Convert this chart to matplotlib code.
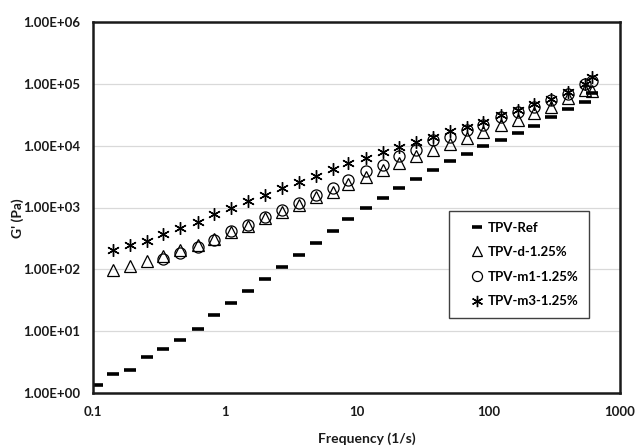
import matplotlib
matplotlib.use("Agg")
import matplotlib.pyplot as plt
from matplotlib.ticker import FixedLocator, FuncFormatter, NullLocator

plt.rcParams['font.family'] = ['Lato', 'DejaVu Sans']
plt.rcParams['font.weight'] = 'bold'

freq = [0.107, 0.142, 0.19, 0.257, 0.339, 0.456, 0.624, 0.825, 1.11, 1.49,
        2.01, 2.70, 3.64, 4.89, 6.58, 8.69, 11.8, 15.8, 21.2, 28.3,
        38.3, 51.3, 68.5, 91.6, 125, 167, 223, 299, 404, 543, 614]

g_ref = [1.35, 2.05, 2.38, 3.82, 5.09, 7.28, 10.7, 18.3, 28.2, 44.6,
         69, 110, 171, 264, 422, 645, 993, 1442, 2046, 2891,
         4045, 5588, 7334, 9773, 12360, 16220, 21040, 29430, 39190, 51430, 70310]

g_d = [97.6, 112, 138, 167, 202, 243, 315, 406, 502, 664,
       846, 1098, 1479, 1803, 2356, 3080, 4045, 5190, 6810, 8510,
       10650, 13150, 16830, 21600, 26020, 33400, 42690, 58400, 79500, 77500]

g_m1 = [147, 182, 230, 298, 417, 521, 703, 895, 1170, 1593,
        2046, 2786, 3893, 4870, 6810, 8510, 12360, 13960, 17940, 21600,
        28770, 35450, 42690, 54800, 67760, 99500, 112400]

g_m3 = [205, 248, 291, 373, 461, 583, 776, 971, 1259, 1593,
        2046, 2614, 3268, 4150, 5190, 6250, 8000, 9420, 11600, 13960,
        17270, 19830, 24430, 31330, 37760, 47210, 56240, 72440, 100500, 126700]

labels = ["TPV-Ref", "TPV-d-1.25%", "TPV-m1-1.25%", "TPV-m3-1.25%"]
y_ticks = [1e0, 1e1, 1e2, 1e3, 1e4, 1e5, 1e6]
x_ticks = [0.1, 1, 10, 100, 1000]
x_tick_labels = ["0.1", "1", "10", "100", "1000"]

fig = plt.figure(figsize=(6.36, 4.46), dpi=100)
ax = fig.add_axes([93/636, 53/446, 527/636, 371/446])

ax.set_xscale('log')
ax.set_yscale('log')
ax.set_xlim(0.1, 1000)
ax.set_ylim(1, 1e6)

ax.plot(freq, g_ref, linestyle='none', marker='_', markersize=8,
        markeredgewidth=2.6, color='black', label=labels[0])
ax.plot(freq[1:], g_d, linestyle='none', marker='^', markersize=8,
        markerfacecolor='none', markeredgecolor='black', markeredgewidth=0.9,
        label=labels[1])
ax.plot(freq[4:], g_m1, linestyle='none', marker='o', markersize=8,
        markerfacecolor='none', markeredgecolor='black', markeredgewidth=0.9,
        label=labels[2])
ax.plot(freq[1:], g_m3, linestyle='none', marker=(6, 2, 0), markersize=9,
        markerfacecolor='none', markeredgecolor='black', markeredgewidth=1.0,
        label=labels[3])

ax.yaxis.set_major_locator(FixedLocator(y_ticks))
ax.yaxis.set_minor_locator(NullLocator())
ax.yaxis.set_major_formatter(FuncFormatter(lambda v, p: "%.2E" % v))
ax.xaxis.set_major_locator(FixedLocator(x_ticks))
ax.xaxis.set_minor_locator(NullLocator())
ax.set_xticklabels(x_tick_labels)

ax.grid(True, axis='y', color='#d9d9d9', linewidth=0.9)
ax.set_axisbelow(True)
ax.tick_params(axis='both', length=0, labelsize=9.5, colors='#1a1a1a')
ax.tick_params(axis='y', pad=9)
ax.tick_params(axis='x', pad=9)
for lab in ax.get_xticklabels() + ax.get_yticklabels():
    lab.set_fontweight('bold')

for s in ax.spines.values():
    s.set_linewidth(1.8)
    s.set_color('#1a1a1a')

ax.set_xlabel("Frequency (1/s)", fontsize=10, fontweight='bold', color='#1a1a1a')
ax.xaxis.set_label_coords(0.52, -0.106)
ax.set_ylabel("G' (Pa)", fontsize=10, fontweight='bold', color='#1a1a1a')
ax.yaxis.set_label_coords(-0.13, 0.47)

leg = ax.legend(loc='upper left', bbox_to_anchor=(449/636, (446-211)/446),
                bbox_transform=fig.transFigure, frameon=True, fancybox=False,
                edgecolor='#404040', framealpha=1, borderpad=0.8,
                labelspacing=0.95, handlelength=2.7, handletextpad=-0.6,
                markerscale=0.9, borderaxespad=0,
                prop={'size': 9.5, 'weight': 'bold'})
leg.get_frame().set_linewidth(1.0)

fig.savefig("out.png", dpi=100)
